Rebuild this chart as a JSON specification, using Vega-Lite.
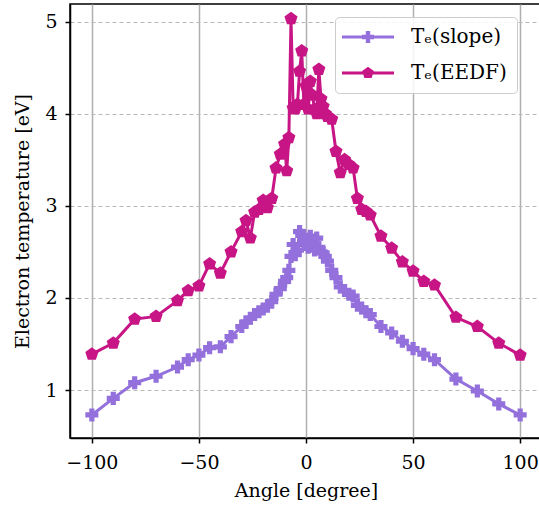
{
  "$schema": "https://vega.github.io/schema/vega-lite/v6.json",
  "width": 472,
  "height": 434,
  "autosize": "none",
  "padding": {"left": 70, "top": 4, "right": -3, "bottom": 74},
  "data": {
    "values": [
      {"angle": -100, "T": 0.73, "series": "Tₑ(slope)"},
      {"angle": -90, "T": 0.91, "series": "Tₑ(slope)"},
      {"angle": -80, "T": 1.08, "series": "Tₑ(slope)"},
      {"angle": -70, "T": 1.15, "series": "Tₑ(slope)"},
      {"angle": -60, "T": 1.25, "series": "Tₑ(slope)"},
      {"angle": -55, "T": 1.33, "series": "Tₑ(slope)"},
      {"angle": -50, "T": 1.38, "series": "Tₑ(slope)"},
      {"angle": -45, "T": 1.46, "series": "Tₑ(slope)"},
      {"angle": -40, "T": 1.47, "series": "Tₑ(slope)"},
      {"angle": -35, "T": 1.58, "series": "Tₑ(slope)"},
      {"angle": -30, "T": 1.69, "series": "Tₑ(slope)"},
      {"angle": -28, "T": 1.74, "series": "Tₑ(slope)"},
      {"angle": -26, "T": 1.78, "series": "Tₑ(slope)"},
      {"angle": -24, "T": 1.82, "series": "Tₑ(slope)"},
      {"angle": -22, "T": 1.85, "series": "Tₑ(slope)"},
      {"angle": -20, "T": 1.88, "series": "Tₑ(slope)"},
      {"angle": -18, "T": 1.91, "series": "Tₑ(slope)"},
      {"angle": -16, "T": 1.96, "series": "Tₑ(slope)"},
      {"angle": -14, "T": 2.04, "series": "Tₑ(slope)"},
      {"angle": -12, "T": 2.10, "series": "Tₑ(slope)"},
      {"angle": -10, "T": 2.18, "series": "Tₑ(slope)"},
      {"angle": -9, "T": 2.22, "series": "Tₑ(slope)"},
      {"angle": -8, "T": 2.30, "series": "Tₑ(slope)"},
      {"angle": -7, "T": 2.45, "series": "Tₑ(slope)"},
      {"angle": -6, "T": 2.58, "series": "Tₑ(slope)"},
      {"angle": -5, "T": 2.47, "series": "Tₑ(slope)"},
      {"angle": -4, "T": 2.52, "series": "Tₑ(slope)"},
      {"angle": -3, "T": 2.72, "series": "Tₑ(slope)"},
      {"angle": -2, "T": 2.68, "series": "Tₑ(slope)"},
      {"angle": -1, "T": 2.62, "series": "Tₑ(slope)"},
      {"angle": 0, "T": 2.58, "series": "Tₑ(slope)"},
      {"angle": 1, "T": 2.55, "series": "Tₑ(slope)"},
      {"angle": 2, "T": 2.67, "series": "Tₑ(slope)"},
      {"angle": 3, "T": 2.60, "series": "Tₑ(slope)"},
      {"angle": 4, "T": 2.52, "series": "Tₑ(slope)"},
      {"angle": 5, "T": 2.65, "series": "Tₑ(slope)"},
      {"angle": 6, "T": 2.55, "series": "Tₑ(slope)"},
      {"angle": 7, "T": 2.50, "series": "Tₑ(slope)"},
      {"angle": 8, "T": 2.49, "series": "Tₑ(slope)"},
      {"angle": 9, "T": 2.45, "series": "Tₑ(slope)"},
      {"angle": 10, "T": 2.40, "series": "Tₑ(slope)"},
      {"angle": 12, "T": 2.30, "series": "Tₑ(slope)"},
      {"angle": 14, "T": 2.22, "series": "Tₑ(slope)"},
      {"angle": 16, "T": 2.12, "series": "Tₑ(slope)"},
      {"angle": 18, "T": 2.08, "series": "Tₑ(slope)"},
      {"angle": 20, "T": 2.04, "series": "Tₑ(slope)"},
      {"angle": 22, "T": 2.02, "series": "Tₑ(slope)"},
      {"angle": 24, "T": 1.92, "series": "Tₑ(slope)"},
      {"angle": 26, "T": 1.89, "series": "Tₑ(slope)"},
      {"angle": 28, "T": 1.85, "series": "Tₑ(slope)"},
      {"angle": 30, "T": 1.82, "series": "Tₑ(slope)"},
      {"angle": 35, "T": 1.69, "series": "Tₑ(slope)"},
      {"angle": 40, "T": 1.62, "series": "Tₑ(slope)"},
      {"angle": 45, "T": 1.53, "series": "Tₑ(slope)"},
      {"angle": 50, "T": 1.45, "series": "Tₑ(slope)"},
      {"angle": 55, "T": 1.39, "series": "Tₑ(slope)"},
      {"angle": 60, "T": 1.33, "series": "Tₑ(slope)"},
      {"angle": 70, "T": 1.12, "series": "Tₑ(slope)"},
      {"angle": 80, "T": 0.99, "series": "Tₑ(slope)"},
      {"angle": 90, "T": 0.85, "series": "Tₑ(slope)"},
      {"angle": 100, "T": 0.73, "series": "Tₑ(slope)"},
      {"angle": -100, "T": 1.39, "series": "Tₑ(EEDF)"},
      {"angle": -90, "T": 1.51, "series": "Tₑ(EEDF)"},
      {"angle": -80, "T": 1.77, "series": "Tₑ(EEDF)"},
      {"angle": -70, "T": 1.80, "series": "Tₑ(EEDF)"},
      {"angle": -60, "T": 1.97, "series": "Tₑ(EEDF)"},
      {"angle": -55, "T": 2.08, "series": "Tₑ(EEDF)"},
      {"angle": -50, "T": 2.13, "series": "Tₑ(EEDF)"},
      {"angle": -45, "T": 2.37, "series": "Tₑ(EEDF)"},
      {"angle": -40, "T": 2.27, "series": "Tₑ(EEDF)"},
      {"angle": -35, "T": 2.50, "series": "Tₑ(EEDF)"},
      {"angle": -30, "T": 2.72, "series": "Tₑ(EEDF)"},
      {"angle": -28, "T": 2.84, "series": "Tₑ(EEDF)"},
      {"angle": -26, "T": 2.65, "series": "Tₑ(EEDF)"},
      {"angle": -24, "T": 2.93, "series": "Tₑ(EEDF)"},
      {"angle": -22, "T": 2.96, "series": "Tₑ(EEDF)"},
      {"angle": -20, "T": 3.06, "series": "Tₑ(EEDF)"},
      {"angle": -18, "T": 2.98, "series": "Tₑ(EEDF)"},
      {"angle": -16, "T": 3.08, "series": "Tₑ(EEDF)"},
      {"angle": -14, "T": 3.41, "series": "Tₑ(EEDF)"},
      {"angle": -12, "T": 3.56, "series": "Tₑ(EEDF)"},
      {"angle": -10, "T": 3.67, "series": "Tₑ(EEDF)"},
      {"angle": -9, "T": 3.38, "series": "Tₑ(EEDF)"},
      {"angle": -8, "T": 3.74, "series": "Tₑ(EEDF)"},
      {"angle": -7, "T": 5.03, "series": "Tₑ(EEDF)"},
      {"angle": -6, "T": 4.06, "series": "Tₑ(EEDF)"},
      {"angle": -5, "T": 4.05, "series": "Tₑ(EEDF)"},
      {"angle": -4, "T": 4.10, "series": "Tₑ(EEDF)"},
      {"angle": -3, "T": 4.46, "series": "Tₑ(EEDF)"},
      {"angle": -2, "T": 4.68, "series": "Tₑ(EEDF)"},
      {"angle": -1, "T": 4.10, "series": "Tₑ(EEDF)"},
      {"angle": 0, "T": 4.30, "series": "Tₑ(EEDF)"},
      {"angle": 1, "T": 4.05, "series": "Tₑ(EEDF)"},
      {"angle": 2, "T": 4.35, "series": "Tₑ(EEDF)"},
      {"angle": 3, "T": 4.20, "series": "Tₑ(EEDF)"},
      {"angle": 4, "T": 4.05, "series": "Tₑ(EEDF)"},
      {"angle": 5, "T": 4.00, "series": "Tₑ(EEDF)"},
      {"angle": 6, "T": 4.48, "series": "Tₑ(EEDF)"},
      {"angle": 7, "T": 4.16, "series": "Tₑ(EEDF)"},
      {"angle": 8, "T": 4.08, "series": "Tₑ(EEDF)"},
      {"angle": 9, "T": 4.00, "series": "Tₑ(EEDF)"},
      {"angle": 10, "T": 3.97, "series": "Tₑ(EEDF)"},
      {"angle": 12, "T": 3.94, "series": "Tₑ(EEDF)"},
      {"angle": 14, "T": 3.59, "series": "Tₑ(EEDF)"},
      {"angle": 16, "T": 3.36, "series": "Tₑ(EEDF)"},
      {"angle": 18, "T": 3.50, "series": "Tₑ(EEDF)"},
      {"angle": 20, "T": 3.45, "series": "Tₑ(EEDF)"},
      {"angle": 22, "T": 3.41, "series": "Tₑ(EEDF)"},
      {"angle": 24, "T": 3.08, "series": "Tₑ(EEDF)"},
      {"angle": 26, "T": 2.96, "series": "Tₑ(EEDF)"},
      {"angle": 28, "T": 2.94, "series": "Tₑ(EEDF)"},
      {"angle": 30, "T": 2.90, "series": "Tₑ(EEDF)"},
      {"angle": 35, "T": 2.67, "series": "Tₑ(EEDF)"},
      {"angle": 40, "T": 2.54, "series": "Tₑ(EEDF)"},
      {"angle": 45, "T": 2.39, "series": "Tₑ(EEDF)"},
      {"angle": 50, "T": 2.29, "series": "Tₑ(EEDF)"},
      {"angle": 55, "T": 2.18, "series": "Tₑ(EEDF)"},
      {"angle": 60, "T": 2.14, "series": "Tₑ(EEDF)"},
      {"angle": 70, "T": 1.79, "series": "Tₑ(EEDF)"},
      {"angle": 80, "T": 1.69, "series": "Tₑ(EEDF)"},
      {"angle": 90, "T": 1.51, "series": "Tₑ(EEDF)"},
      {"angle": 100, "T": 1.38, "series": "Tₑ(EEDF)"}
    ]
  },
  "encoding": {
    "x": {
      "field": "angle", "type": "quantitative",
      "scale": {"domain": [-110.2, 110.2], "nice": false, "zero": false},
      "axis": {"title": "Angle [degree]", "values": [-100, -50, 0, 50, 100], "grid": true, "gridWidth": 1.5, "gridColor": "#b0b0b0", "labelPadding": 10, "titlePadding": 9}
    },
    "y": {
      "field": "T", "type": "quantitative",
      "scale": {"domain": [0.48, 5.19], "nice": false, "zero": false},
      "axis": {"title": "Electron temperature [eV]", "values": [1, 2, 3, 4, 5], "grid": true, "gridDash": [4, 3], "gridWidth": 1, "gridColor": "#b8b8b8", "labelPadding": 8, "titlePadding": 12}
    },
    "color": {
      "field": "series", "type": "nominal",
      "scale": {"domain": ["Tₑ(slope)", "Tₑ(EEDF)"], "range": ["#9370DB", "#C71585"]},
      "legend": {
        "title": null,
        "orient": "none",
        "legendX": 265,
        "legendY": 13,
        "padding": 10,
        "strokeColor": "#cccccc",
        "fillColor": "rgba(255,255,255,0.85)",
        "cornerRadius": 4,
        "symbolSize": 400,
        "symbolStrokeWidth": 0,
        "symbolOpacity": 1,
        "labelOffset": 46,
        "labelFont": "DejaVu Serif",
        "labelFontSize": 20,
        "labelColor": "black",
        "rowPadding": 16,
        "encode": {
          "symbols": {
            "update": {
              "shape": {"signal": "datum.value === 'Tₑ(slope)' ? 'M-1.3,-0.15L3.9,-0.15L3.9,0.15L-1.3,0.15Z M1.08,-0.6L1.52,-0.6L1.52,-0.22L1.9,-0.22L1.9,0.22L1.52,0.22L1.52,0.6L1.08,0.6L1.08,0.22L0.7,0.22L0.7,-0.22L1.08,-0.22Z' : 'M-1.3,-0.15L3.9,-0.15L3.9,0.15L-1.3,0.15Z M1.3,-0.62L1.89,-0.19L1.66,0.5L0.94,0.5L0.71,-0.19Z'"},
              "size": {"value": 400},
              "fill": {"scale": "color", "field": "value"},
              "strokeWidth": {"value": 0}
            }
          }
        }
      }
    }
  },
  "layer": [
    {
      "mark": {"type": "line", "strokeWidth": 3}
    },
    {
      "transform": [{"filter": "datum.series === 'Tₑ(slope)'"}],
      "mark": {"type": "point", "filled": true, "opacity": 1, "shape": "cross", "size": 170}
    },
    {
      "transform": [{"filter": "datum.series === 'Tₑ(EEDF)'"}],
      "mark": {"type": "point", "filled": true, "opacity": 1, "shape": "M0,-1L0.951,-0.309L0.588,0.809L-0.588,0.809L-0.951,-0.309Z", "size": 190}
    }
  ],
  "config": {
    "view": {"stroke": "black", "strokeWidth": 1.5},
    "font": "DejaVu Serif",
    "axis": {
      "labelFont": "DejaVu Serif",
      "titleFont": "DejaVu Serif",
      "labelFontSize": 19,
      "titleFontSize": 19,
      "titleFontWeight": "normal",
      "labelColor": "black",
      "titleColor": "black",
      "domainColor": "black",
      "domainWidth": 1.5,
      "tickColor": "black",
      "tickWidth": 1.5,
      "tickSize": 5
    }
  }
}
